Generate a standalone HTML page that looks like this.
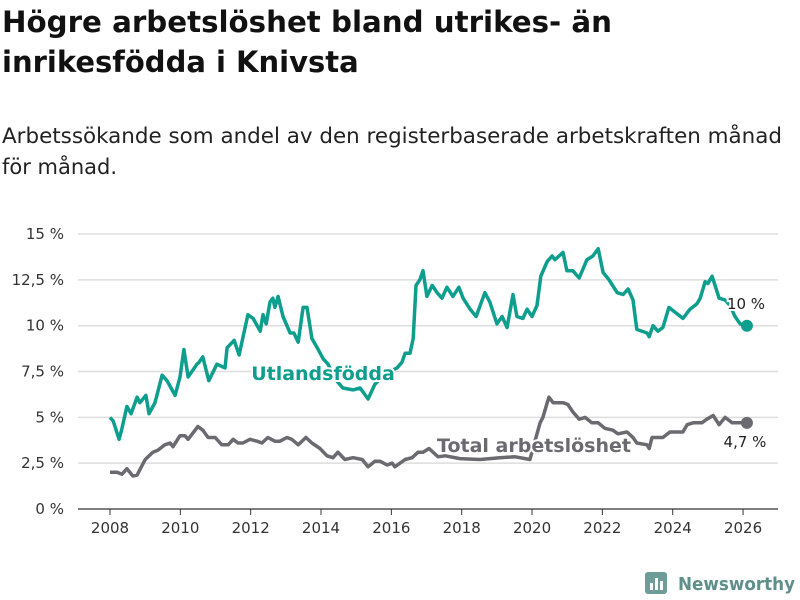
<!DOCTYPE html>
<html><head><meta charset="utf-8"><style>
body{margin:0;background:#fff;width:800px;height:600px;overflow:hidden;font-family:"Liberation Sans","DejaVu Sans",sans-serif;}
</style></head><body>
<svg id="chart" width="800" height="600" style="position:absolute;left:0;top:0">
<text x="2" y="32" font-size="29" font-weight="bold" fill="#111" font-family="DejaVu Sans, sans-serif" textLength="610" lengthAdjust="spacingAndGlyphs">Högre arbetslöshet bland utrikes- än</text>
<text x="2" y="72" font-size="29" font-weight="bold" fill="#111" font-family="DejaVu Sans, sans-serif">inrikesfödda i Knivsta</text>
<text x="2" y="143" font-size="21" fill="#222" font-family="DejaVu Sans, sans-serif" textLength="780" lengthAdjust="spacingAndGlyphs">Arbetssökande som andel av den registerbaserade arbetskraften månad</text>
<text x="2" y="174" font-size="21" fill="#222" font-family="DejaVu Sans, sans-serif">för månad.</text>
<g id="grid"></g><g id="series"></g><g id="labels"></g>
<g>
<rect x="645" y="572" width="22" height="22" rx="3" fill="#6e9c98"/>
<rect x="650" y="583" width="3" height="7" fill="#fff"/><rect x="655" y="578" width="3" height="12" fill="#fff"/><rect x="660" y="581" width="3" height="9" fill="#fff"/>
<text x="678" y="590" font-size="18" font-weight="bold" fill="#5f8f8b" font-family="DejaVu Sans, sans-serif" textLength="117" lengthAdjust="spacingAndGlyphs">Newsworthy</text>
</g>
</svg>
<script>
const yTicks=[0,2.5,5,7.5,10,12.5,15];
const yTickLabels=["0 %","2,5 %","5 %","7,5 %","10 %","12,5 %","15 %"];
const xTicks=[2008,2010,2012,2014,2016,2018,2020,2022,2024,2026];
const utlYears=[2008.00,2008.09,2008.26,2008.34,2008.48,2008.60,2008.77,2008.85,2009.02,2009.11,2009.28,2009.48,2009.62,2009.85,2009.99,2010.10,2010.22,2010.47,2010.53,2010.64,2010.81,2011.04,2011.27,2011.33,2011.53,2011.67,2011.92,2012.07,2012.27,2012.35,2012.44,2012.55,2012.63,2012.69,2012.78,2012.92,2013.12,2013.23,2013.35,2013.49,2013.60,2013.74,2013.89,2014.06,2014.20,2014.40,2014.62,2014.91,2015.11,2015.34,2015.53,2015.68,2015.96,2016.16,2016.30,2016.39,2016.53,2016.62,2016.70,2016.81,2016.90,2017.01,2017.16,2017.30,2017.44,2017.58,2017.75,2017.92,2018.04,2018.24,2018.41,2018.66,2018.80,2019.00,2019.15,2019.29,2019.46,2019.57,2019.74,2019.86,2020.00,2020.14,2020.25,2020.43,2020.57,2020.65,2020.88,2020.99,2021.16,2021.34,2021.56,2021.73,2021.88,2022.02,2022.19,2022.42,2022.59,2022.73,2022.87,2022.98,2023.27,2023.33,2023.44,2023.58,2023.72,2023.89,2024.09,2024.29,2024.49,2024.69,2024.78,2024.92,2025.00,2025.12,2025.32,2025.49,2025.63,2025.77,2025.92,2026.11];
const utlValues=[5.0,4.8,3.8,4.4,5.6,5.2,6.1,5.8,6.2,5.2,5.8,7.3,7.0,6.2,7.2,8.7,7.2,7.9,8.0,8.3,7.0,7.9,7.7,8.8,9.2,8.4,10.6,10.4,9.7,10.6,10.1,11.3,11.5,11.0,11.6,10.5,9.6,9.6,9.1,11.0,11.0,9.3,8.8,8.2,7.9,7.1,6.6,6.5,6.6,6.0,6.8,7.1,7.5,7.7,8.0,8.5,8.5,9.3,12.2,12.5,13.0,11.6,12.2,11.8,11.5,12.1,11.6,12.1,11.5,10.9,10.5,11.8,11.3,10.1,10.5,9.9,11.7,10.5,10.4,10.9,10.5,11.1,12.7,13.5,13.8,13.6,14.0,13.0,13.0,12.6,13.6,13.8,14.2,12.9,12.5,11.8,11.7,12.0,11.4,9.8,9.6,9.4,10.0,9.7,9.9,11.0,10.7,10.4,10.9,11.2,11.5,12.4,12.3,12.7,11.5,11.4,11.1,10.5,10.1,10.0];
const totYears=[2008.00,2008.20,2008.34,2008.48,2008.65,2008.77,2009.00,2009.22,2009.36,2009.56,2009.71,2009.79,2009.99,2010.13,2010.22,2010.50,2010.64,2010.79,2010.99,2011.18,2011.36,2011.50,2011.64,2011.78,2011.98,2012.18,2012.32,2012.49,2012.69,2012.83,2013.03,2013.17,2013.35,2013.57,2013.74,2013.97,2014.17,2014.34,2014.48,2014.68,2014.91,2015.17,2015.34,2015.53,2015.68,2015.88,2016.02,2016.10,2016.39,2016.59,2016.76,2016.90,2017.07,2017.33,2017.53,2017.95,2018.52,2019.09,2019.52,2019.94,2020.14,2020.23,2020.31,2020.43,2020.48,2020.60,2020.74,2020.88,2021.02,2021.16,2021.34,2021.51,2021.70,2021.88,2022.07,2022.30,2022.44,2022.70,2022.87,2022.98,2023.27,2023.33,2023.41,2023.72,2023.92,2024.29,2024.41,2024.58,2024.83,2024.97,2025.15,2025.32,2025.49,2025.69,2025.83,2026.11];
const totValues=[2.0,2.0,1.9,2.2,1.8,1.85,2.7,3.1,3.2,3.5,3.6,3.4,4.0,4.0,3.8,4.5,4.3,3.9,3.9,3.5,3.5,3.8,3.6,3.6,3.8,3.7,3.6,3.9,3.7,3.7,3.9,3.8,3.5,3.9,3.6,3.3,2.9,2.8,3.1,2.7,2.8,2.7,2.3,2.6,2.6,2.4,2.5,2.3,2.7,2.8,3.1,3.1,3.3,2.85,2.9,2.75,2.7,2.8,2.85,2.7,4.1,4.7,5.0,5.8,6.1,5.8,5.8,5.8,5.7,5.3,4.9,5.0,4.7,4.7,4.4,4.3,4.1,4.2,3.9,3.6,3.5,3.3,3.9,3.9,4.2,4.2,4.6,4.7,4.7,4.9,5.1,4.6,5.0,4.7,4.7,4.7];
const NS="http://www.w3.org/2000/svg";
const x=t=>110+(t-2008)*35.17;
const y=v=>509-v*18.33;
function mk(tag,attrs,parent){const e=document.createElementNS(NS,tag);for(const k in attrs)e.setAttribute(k,attrs[k]);parent.appendChild(e);return e;}
const grid=document.getElementById('grid'),ser=document.getElementById('series'),lab=document.getElementById('labels');
yTicks.forEach((v,i)=>{
 const l=mk('line',{x1:78,x2:778,y1:y(v),y2:y(v),stroke:v===0?'#333':'#ddd','stroke-width':v===0?1.2:1.5},grid);
 
 
 const t=mk('text',{x:64,y:y(v)+5,'text-anchor':'end','font-size':15,fill:'#333','font-family':'DejaVu Sans, sans-serif'},grid);
 t.textContent=yTickLabels[i];
 
 
});
xTicks.forEach(yr=>{
 const tk=mk('line',{x1:x(yr),x2:x(yr),y1:509,y2:515,stroke:'#333'},grid);
 
 
 const t=mk('text',{x:x(yr),y:533,'text-anchor':'middle','font-size':15,fill:'#333','font-family':'DejaVu Sans, sans-serif'},grid);
 t.textContent=yr;
 
 
});
function line(ys,vs,col,name){
 const d=ys.map((t,i)=>(i?'L':'M')+x(t).toFixed(1)+','+y(vs[i]).toFixed(1)).join('');
 const p=mk('path',{d:d,fill:'none',stroke:col,'stroke-width':3.5,'stroke-linejoin':'round'},ser);
 
 
 const n=ys.length-1;
 const c=mk('circle',{cx:x(ys[n]),cy:y(vs[n]),r:6,fill:col},ser);
 
 
}
line(totYears,totValues,'#6b6a70','total');
line(utlYears,utlValues,'#0e9e8e','utlandsfodda');
function label(txt,xx,yy,col,size,bold,anchor,name){
 const t=mk('text',{x:xx,y:yy,'font-size':size,'font-weight':bold?'bold':'normal',fill:col,stroke:'#fff','stroke-width':4,'paint-order':'stroke','text-anchor':anchor,'font-family':'DejaVu Sans, sans-serif'},lab);
 t.textContent=txt;
 
 
}
label('Utlandsfödda',323,380,'#0e9e8e',19,true,'middle','utlandsfodda-label');
label('Total arbetslöshet',534,452,'#6b6a70',19,true,'middle','total-label');
label('10 %',746,309,'#222',15,false,'middle','utlandsfodda-end-value');
label('4,7 %',745,447,'#222',15,false,'middle','total-end-value');
</script>
</body></html>
